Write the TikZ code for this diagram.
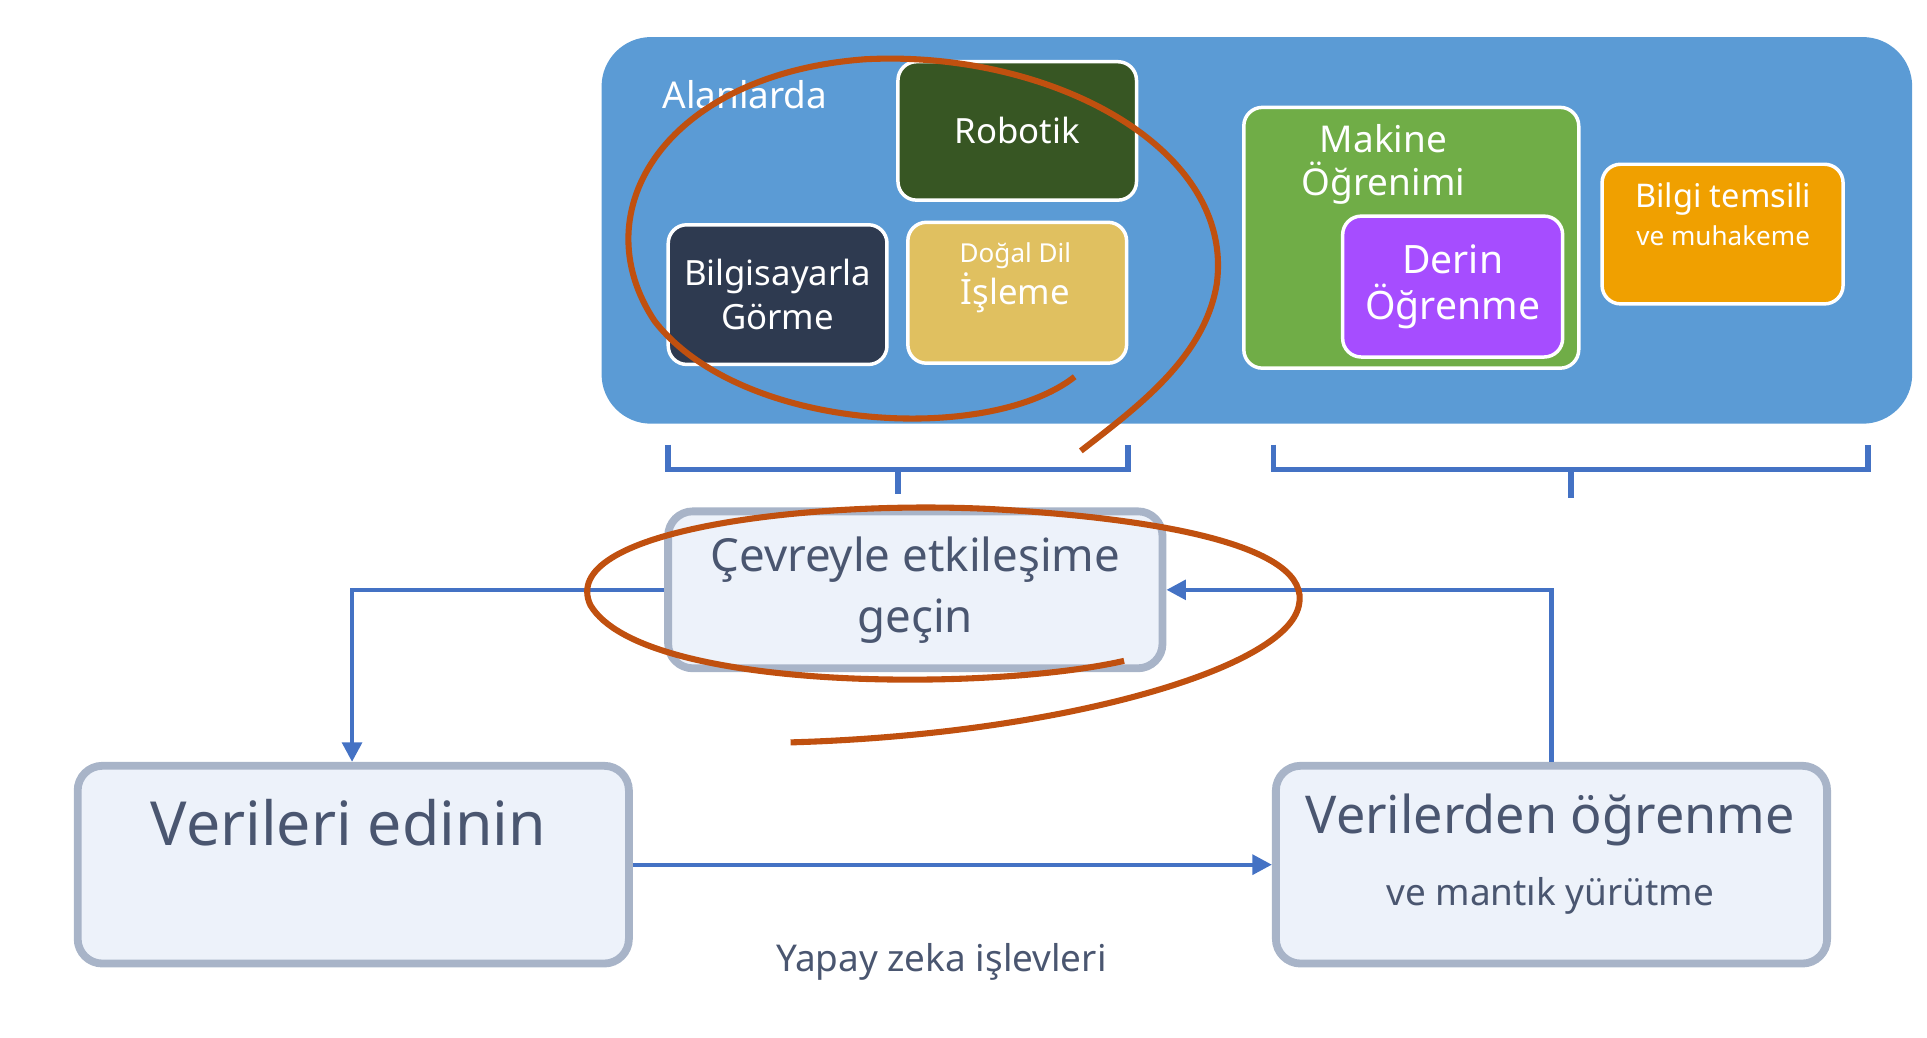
\documentclass[tikz,border=0pt]{standalone}
\usepackage{fontspec}
\setmainfont{Noto Sans}
\usetikzlibrary{arrows.meta}
\definecolor{bigblue}{HTML}{5B9BD5}
\definecolor{robot}{HTML}{375623}
\definecolor{cvision}{HTML}{2E3A50}
\definecolor{nlp}{HTML}{E0C060}
\definecolor{ml}{HTML}{70AD47}
\definecolor{dl}{HTML}{A64DFF}
\definecolor{kr}{HTML}{F0A000}
\definecolor{brk}{HTML}{4472C4}
\definecolor{pfill}{HTML}{EDF2FA}
\definecolor{pedge}{HTML}{A8B4C8}
\definecolor{ptext}{HTML}{4A5670}
\definecolor{circ}{HTML}{C0500F}
\begin{document}
\begin{tikzpicture}[x=0.01cm,y=-0.01cm,
 dom/.style={draw=white,line width=0.8pt,rounded corners=0.15cm,text=white,align=center,inner sep=0pt},
 proc/.style={draw=pedge,line width=1.8pt,fill=pfill,rounded corners=0.2cm,inner sep=0pt},
 con/.style={draw=brk,line width=1pt},
 arr/.style={con,-{Triangle[length=4.5pt,width=4.5pt]}},
 ring/.style={draw=circ,line width=1.4pt}]
\useasboundingbox (0,0) rectangle (1560,840);
\fill[bigblue,rounded corners=0.4cm] (487,30) rectangle (1548,343);
\node[text=white,font=\fontsize{8.5}{10}\selectfont] (al) at (603,77) {Alanlarda};
\node[dom,fill=robot,minimum width=1.93cm,minimum height=1.12cm,font=\bfseries\fontsize{8}{10}\selectfont] (rob) at (823.5,106) {Robotik};
\node[dom,fill=cvision,minimum width=1.77cm,minimum height=1.13cm,font=\bfseries\fontsize{8}{10}\selectfont] (cv) at (629.5,238.5) {Bilgisayarla\\Görme};
\node[dom,fill=nlp,minimum width=1.77cm,minimum height=1.14cm] (nlp) at (823.5,237) {};
\node[text=white,font=\fontsize{6}{7}\selectfont] (nlp1) at (822,207) {Doğal Dil};
\node[text=white,font=\fontsize{8}{10}\selectfont] (nlp2) at (822,237) {İşleme};
\node[dom,fill=ml,minimum width=2.71cm,minimum height=2.11cm] (ml) at (1142.5,192.5) {};
\node[text=white,align=center,font=\fontsize{8.5}{10}\selectfont] (mlt) at (1120,133) {Makine\\Öğrenimi};
\node[dom,fill=dl,minimum width=1.78cm,minimum height=1.14cm,font=\fontsize{9}{10.5}\selectfont] (dl) at (1176,232) {Derin\\Öğrenme};
\node[dom,fill=kr,minimum width=1.95cm,minimum height=1.13cm] (kr) at (1394.5,189.5) {};
\node[text=white,font=\bfseries\fontsize{7.5}{9}\selectfont] (kr1) at (1395,161) {Bilgi temsili};
\node[text=white,font=\fontsize{6}{7}\selectfont] (kr2) at (1395,191) {ve muhakeme};
% brackets
\draw[con,line width=1.3pt] (541,360) -- (541,380) -- (913,380) -- (913,360);
\draw[con,line width=1.3pt] (727,380) -- (727,400);
\draw[con,line width=1.3pt] (1031,360) -- (1031,380) -- (1512,380) -- (1512,360);
\draw[con,line width=1.3pt] (1272,380) -- (1272,403);
% process boxes
\node[proc,minimum width=4cm,minimum height=1.27cm,text=ptext,align=center,font=\fontsize{10.5}{14}\selectfont] (env) at (741,477.5) {Çevreyle etkileşime\\geçin};
\node[proc,minimum width=4.46cm,minimum height=1.6cm] (acq) at (286,700) {};
\node[text=ptext,font=\fontsize{14}{17}\selectfont] (acqt) at (282,666) {Verileri edinin};
\node[proc,minimum width=4.46cm,minimum height=1.6cm] (lrn) at (1256,700) {};
\node[text=ptext,font=\fontsize{12}{14}\selectfont] (lrn1) at (1255,664) {Verilerden öğrenme};
\node[text=ptext,font=\fontsize{8.5}{10}\selectfont] (lrn2) at (1255,725) {ve mantık yürütme};
\node[text=ptext,font=\fontsize{8.5}{10}\selectfont] (fn) at (762,779) {Yapay zeka işlevleri};
% arrows
\draw[arr] (env.west) -- (285,477.5) -- (acq.north -| 285,0);
\draw[arr] (acq.east) -- (lrn.west);
\draw[arr] (lrn.north) -- (1256,477.5) -- (env.east);
% orange rings
\draw[ring] (870,305) .. controls (800,360) and (600,350) .. (530,260) .. controls (470,170) and (540,60) .. (700,48) .. controls (850,40) and (1000,120) .. (985,230) .. controls (975,290) and (920,330) .. (875,365);
\draw[ring] (910,535) .. controls (800,560) and (520,560) .. (478,490) .. controls (450,430) and (650,405) .. (800,412) .. controls (950,420) and (1070,445) .. (1050,495) .. controls (1030,545) and (850,595) .. (640,601);
\end{tikzpicture}
\end{document}
